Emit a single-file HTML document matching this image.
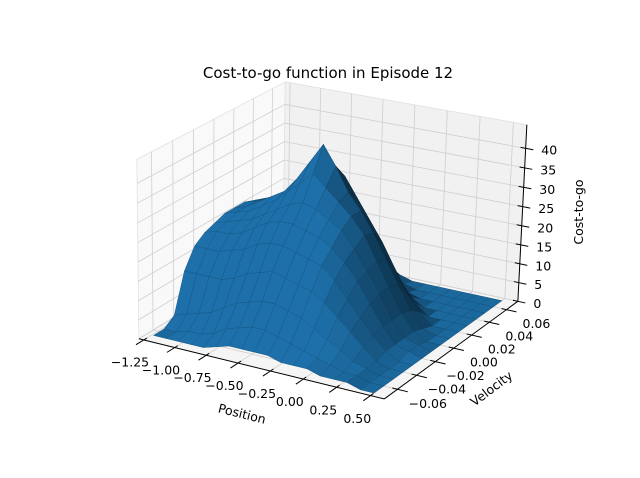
<!DOCTYPE html>
<html><head><meta charset="utf-8"><style>
html,body{margin:0;padding:0;background:#fff;}
svg{display:block;font-family:"DejaVu Sans","Liberation Sans",sans-serif;}
</style></head><body>
<svg id="chart" width="640" height="478" viewBox="0 0 640 478">
<rect x="0" y="0" width="640" height="478" fill="#fff"/>
<text x="328" y="78" text-anchor="middle" font-size="15" fill="#000">Cost-to-go function in Episode 12</text>
<g id="panes"></g>
<g id="grid"></g>
<g id="axes"></g>
<g id="surface"></g>
<g id="labels"></g>
<text x="0" y="0" transform="translate(241,418) rotate(14)" text-anchor="middle" font-size="12.5">Position</text>
<text x="0" y="0" transform="translate(494,392) rotate(-37)" text-anchor="middle" font-size="12.5">Velocity</text>
<text x="0" y="0" transform="translate(583,212) rotate(-90)" text-anchor="middle" font-size="12.5">Cost-to-go</text>
</svg>
<script>
const positions = [-1.2,-1.1,-1.0,-0.9,-0.8,-0.7,-0.6,-0.5,-0.4,-0.3,-0.2,-0.1,0.0,0.1,0.2,0.3,0.4,0.5];
const velocities = [-0.07,-0.06,-0.05,-0.04,-0.03,-0.02,-0.01,0.0,0.01,0.02,0.03,0.04,0.05,0.06,0.07];
const costRows = [
[1,1,1,1,1,2,3,3,3,3,2,2,2,1,1,1,0,0],
[1,1,2,2,3,5,6,7,7,6,5,4,3,2,1,1,0,0],
[3,4,5,6,8,10,11,12,12,11,10,8,6,4,2,1,0,0],
[13,13,13,13,14,16,17,18,17,16,15,13,10,7,4,1,0,0],
[18,18,18,19,20,22,23,23,22,21,20,17,13,9,5,2,0,0],
[20,21,21,22,24,26,27,27,26,25,23,20,16,11,6,2,1,0],
[21,22,23,24,26,28,30,31,30,28,26,22,17,12,6,2,1,0],
[22,23,24,26,28,31,34,37,34,31,28,24,18,12,6,2,0,0],
[22,23,25,27,29,33,38,43,38,32,28,23,17,11,5,1,0,0],
[22,23,24,26,29,32,35,37,34,29,24,19,13,7,3,0,0,0],
[21,22,23,25,27,30,31,30,27,22,17,12,7,3,0,0,0,0],
[20,21,22,24,25,27,26,24,20,15,10,6,2,0,0,0,0,0],
[19,20,21,22,23,22,20,17,13,8,4,1,0,0,0,0,0,0],
[18,19,20,20,20,18,15,11,7,3,1,0,0,0,0,0,0,0],
[17,18,18,18,16,13,10,6,3,1,0,0,0,0,0,0,0,0]
];
const xTicks = [-1.25,-1.0,-0.75,-0.5,-0.25,0.0,0.25,0.5];
const xTickLabels = ["\u22121.25","\u22121.00","\u22120.75","\u22120.50","\u22120.25","0.00","0.25","0.50"];
const vTicks = [-0.06,-0.04,-0.02,0.0,0.02,0.04,0.06];
const vTickLabels = ["\u22120.06","\u22120.04","\u22120.02","0.00","0.02","0.04","0.06"];
const zTicks = [0,5,10,15,20,25,30,35,40];
const zTickLabels = ["0","5","10","15","20","25","30","35","40"];

const XMIN=-1.29, XMAX=0.60, VMIN=-0.0735, VMAX=0.0735, ZMIN=0, ZMAX=46;
const NS="http://www.w3.org/2000/svg";

const corr = [
 [0,0,0,139,339],[0,0,1,137,159],[1,0,0,384,399],
 [1,1,0,518,301],[1,1,1,527,125],[0,1,1,285,82]
];
function solveCam(){
  const A=[],b=[];
  corr.forEach(c=>{const [u,v,w,x,y]=c;
    A.push([u,v,w,1,0,0,0,0,-x*u,-x*v,-x*w]);b.push(x);
    A.push([0,0,0,0,u,v,w,1,-y*u,-y*v,-y*w]);b.push(y);});
  const n=11,M=[];
  for(let i=0;i<n;i++){M.push([]);for(let j=0;j<=n;j++){let s=0;
    for(let k=0;k<A.length;k++)s+=A[k][i]*(j<n?A[k][j]:b[k]);M[i].push(s);}}
  for(let i=0;i<n;i++){M[i][i]+=1e-9;}
  for(let i=0;i<n;i++){let p=i;for(let r=i+1;r<n;r++)if(Math.abs(M[r][i])>Math.abs(M[p][i]))p=r;
    [M[i],M[p]]=[M[p],M[i]];
    for(let r=0;r<n;r++){if(r===i)continue;const f=M[r][i]/M[i][i];for(let j=i;j<=n;j++)M[r][j]-=f*M[i][j];}}
  return M.map((r,i)=>r[n]/r[i]);
}
const P=solveCam();
function proj(u,v,w){const d=P[8]*u+P[9]*v+P[10]*w+1;
  return [(P[0]*u+P[1]*v+P[2]*w+P[3])/d,(P[4]*u+P[5]*v+P[6]*w+P[7])/d,d];}
const farSign = proj(0,1,0)[2] > proj(1,0,0)[2] ? 1 : -1;
const xs=p=>(p-XMIN)/(XMAX-XMIN), vs=v=>(v-VMIN)/(VMAX-VMIN), zs=z=>(z-ZMIN)/(ZMAX-ZMIN);

function poly(g,pts,fill,stroke,sw,name){const e=document.createElementNS(NS,'polygon');
  e.setAttribute('points',pts.map(p=>p[0].toFixed(2)+','+p[1].toFixed(2)).join(' '));
  e.setAttribute('fill',fill);if(stroke){e.setAttribute('stroke',stroke);e.setAttribute('stroke-width',sw);e.setAttribute('stroke-linejoin','round');}
  
  
  g.appendChild(e);}
function line(g,a,b,col,sw,name){const e=document.createElementNS(NS,'line');
  e.setAttribute('x1',a[0]);e.setAttribute('y1',a[1]);e.setAttribute('x2',b[0]);e.setAttribute('y2',b[1]);
  e.setAttribute('stroke',col);e.setAttribute('stroke-width',sw);
  
  
  g.appendChild(e);}
function text(g,x,y,s,anchor,name){const e=document.createElementNS(NS,'text');
  e.setAttribute('x',x);e.setAttribute('y',y);e.setAttribute('text-anchor',anchor);e.setAttribute('font-size','12.5');
  e.textContent=s;
  
  
  g.appendChild(e);}

const panes=document.getElementById('panes');
poly(panes,[proj(0,0,0),proj(1,0,0),proj(1,1,0),proj(0,1,0)],'#f5f5f5','#e6e6e6',0.8,'floor-pane');
poly(panes,[proj(0,1,0),proj(1,1,0),proj(1,1,1),proj(0,1,1)],'#f1f1f1','#e0e0e0',0.8,'back-pane');
poly(panes,[proj(0,0,0),proj(0,1,0),proj(0,1,1),proj(0,0,1)],'#f9f9f9','#e0e0e0',0.8,'left-pane');

const grid=document.getElementById('grid');const GC='#cfcfcf';
xTicks.forEach(t=>{const u=xs(t);line(grid,proj(u,0,0),proj(u,1,0),GC,0.8,'floor-grid-x');line(grid,proj(u,1,0),proj(u,1,1),GC,0.8,'back-grid-x');});
vTicks.forEach(t=>{const v=vs(t);line(grid,proj(0,v,0),proj(1,v,0),GC,0.8,'floor-grid-v');line(grid,proj(0,v,0),proj(0,v,1),GC,0.8,'left-grid-v');});
zTicks.forEach(t=>{const w=zs(t);line(grid,proj(0,1,w),proj(1,1,w),GC,0.8,'back-grid-z');line(grid,proj(0,0,w),proj(0,1,w),GC,0.8,'left-grid-z');});

const axes=document.getElementById('axes'),labels=document.getElementById('labels');
line(axes,proj(0,0,0),proj(1,0,0),'#000',1,'x-axis-line');
line(axes,proj(1,0,0),proj(1,1,0),'#000',1,'y-axis-line');
line(axes,proj(1,1,0),proj(1,1,1),'#000',1,'z-axis-line');
xTicks.forEach((t,i)=>{const u=xs(t),a=proj(u,0.02,0),b=proj(u,-0.05,0);line(axes,a,b,'#000',1,'x-tick');
  text(labels,b[0]-6,b[1]+22,xTickLabels[i],'middle','x-tick-label');});
vTicks.forEach((t,i)=>{const v=vs(t),a=proj(0.98,v,0),b=proj(1.04,v,0);line(axes,a,b,'#000',1,'y-tick');
  text(labels,b[0]+20,b[1]+16,vTickLabels[i],'middle','y-tick-label');});
zTicks.forEach((t,i)=>{const w=zs(t),a=proj(0.98,1,w),b=proj(1.03,1,w);line(axes,a,b,'#000',1,'z-tick');
  text(labels,b[0]+8,b[1]+5,zTickLabels[i],'start','z-tick-label');});

const surf=document.getElementById('surface');
const L=[-0.4,-1,0.9];const Ln=Math.hypot(...L);
const cells=[];
for(let i=0;i<velocities.length-1;i++){for(let j=0;j<positions.length-1;j++){
  const c=[[i,j],[i,j+1],[i+1,j+1],[i+1,j]].map(([a,b])=>[xs(positions[b]),vs(velocities[a]),zs(costRows[a][b])]);
  const ph=c.map(q=>[q[0]*4,q[1]*4,q[2]*3]);
  const d1=[ph[2][0]-ph[0][0],ph[2][1]-ph[0][1],ph[2][2]-ph[0][2]];
  const d2=[ph[3][0]-ph[1][0],ph[3][1]-ph[1][1],ph[3][2]-ph[1][2]];
  let n=[d1[1]*d2[2]-d1[2]*d2[1],d1[2]*d2[0]-d1[0]*d2[2],d1[0]*d2[1]-d1[1]*d2[0]];
  if(n[2]<0)n=n.map(x=>-x);const nn=Math.hypot(...n)||1;
  const dot=(n[0]*L[0]+n[1]*L[1]+n[2]*L[2])/(nn*Ln);
  const k=Math.max(0.3,Math.min(0.94,0.52+0.55*dot));
  const col='rgb('+Math.round(31*k)+','+Math.round(119*k)+','+Math.round(180*k)+')';
  const ec='rgb('+Math.round(31*k*0.8)+','+Math.round(119*k*0.8)+','+Math.round(180*k*0.8)+')';
  const pts=c.map(q=>proj(q[0],q[1],q[2]));
  const cu=(c[0][0]+c[2][0])/2,cv=(c[0][1]+c[2][1])/2,cw=(c[0][2]+c[1][2]+c[2][2]+c[3][2])/4;
  cells.push({pts,col,ec,depth:proj(cu,cv,cw)[2]*farSign});
}}
cells.sort((a,b)=>b.depth-a.depth);
cells.forEach(c=>poly(surf,c.pts,c.col,c.ec,0.5,'surface-cell'));
</script>
</body></html>
